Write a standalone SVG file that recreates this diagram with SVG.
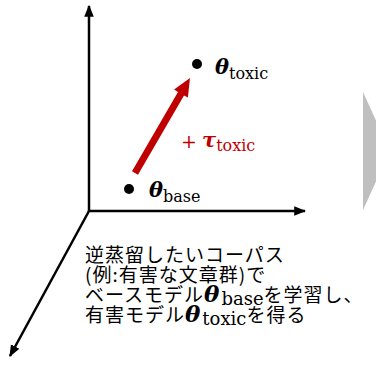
<svg xmlns="http://www.w3.org/2000/svg" width="376" height="365" viewBox="0 0 376 365">
<style>
.ax{stroke:#000;stroke-width:2.5;fill:none}
.math{font-family:"DejaVu Serif","Liberation Serif",serif;font-weight:bold;font-style:italic}
.sub{font-family:"DejaVu Serif","Liberation Serif",serif;font-weight:normal;font-style:normal}
.jp{font-family:"Noto Sans CJK JP","Noto Sans",sans-serif;font-size:19px;fill:#000;letter-spacing:1px}
</style>
<defs>
<marker id="ah" markerUnits="userSpaceOnUse" markerWidth="12" markerHeight="12" viewBox="0 0 10 10" refX="9" refY="5" orient="auto">
<path d="M0,1 L10,5 L0,9 Z" fill="#000"/>
</marker>
</defs>
<rect width="376" height="365" fill="#fff"/>
<g id="connectors">
<line class="ax" x1="89" y1="212" x2="89" y2="6" marker-end="url(#ah)"/>
<line class="ax" x1="88" y1="211" x2="305" y2="211" marker-end="url(#ah)"/>
<line class="ax" x1="89" y1="211" x2="10" y2="356" marker-end="url(#ah)"/>
<polygon id="tau-arrow" fill="#c00000" points="132,171.3 138,174.8 184,95.4 187.9,97.6 190,78 174.1,89.6 178,91.9"/>
</g>
<g id="theta-base">
<circle cx="129" cy="189" r="5" fill="#000"/>
<text x="149" y="197" font-size="21" class="math" fill="#000">θ<tspan class="sub" font-size="16" dy="5">base</tspan></text>
</g>
<g id="theta-toxic">
<circle cx="197" cy="64" r="5" fill="#000"/>
<text x="215" y="74" font-size="21" class="math" fill="#000">θ<tspan class="sub" font-size="16" dy="5">toxic</tspan></text>
</g>
<g id="tau-label">
<text x="181" y="148" font-size="19" fill="#c00000" font-family="DejaVu Serif, serif">+</text>
<text x="202" y="147" font-size="21" class="math" fill="#c00000">τ<tspan class="sub" font-size="16" dy="4">toxic</tspan></text>
</g>
<g id="caption">
<text class="jp" x="85" y="262">逆蒸留したいコーパス</text>
<text class="jp" x="85" y="282">(例:有害な文章群)で</text>
<text class="jp" x="85" y="302">ベースモデル<tspan class="math" font-size="23" letter-spacing="2">θ</tspan><tspan class="sub" font-size="18" dy="3" letter-spacing="0">base</tspan><tspan dy="-3">を学習し、</tspan></text>
<text class="jp" x="85" y="322">有害モデル<tspan class="math" font-size="23" letter-spacing="2">θ</tspan><tspan class="sub" font-size="18" dy="3" letter-spacing="0">toxic</tspan><tspan dy="-3">を得る</tspan></text>
</g>
<g id="chevron">
<polygon points="363,92 390,151 363,210" fill="#bfbfbf"/>
</g>
</svg>
